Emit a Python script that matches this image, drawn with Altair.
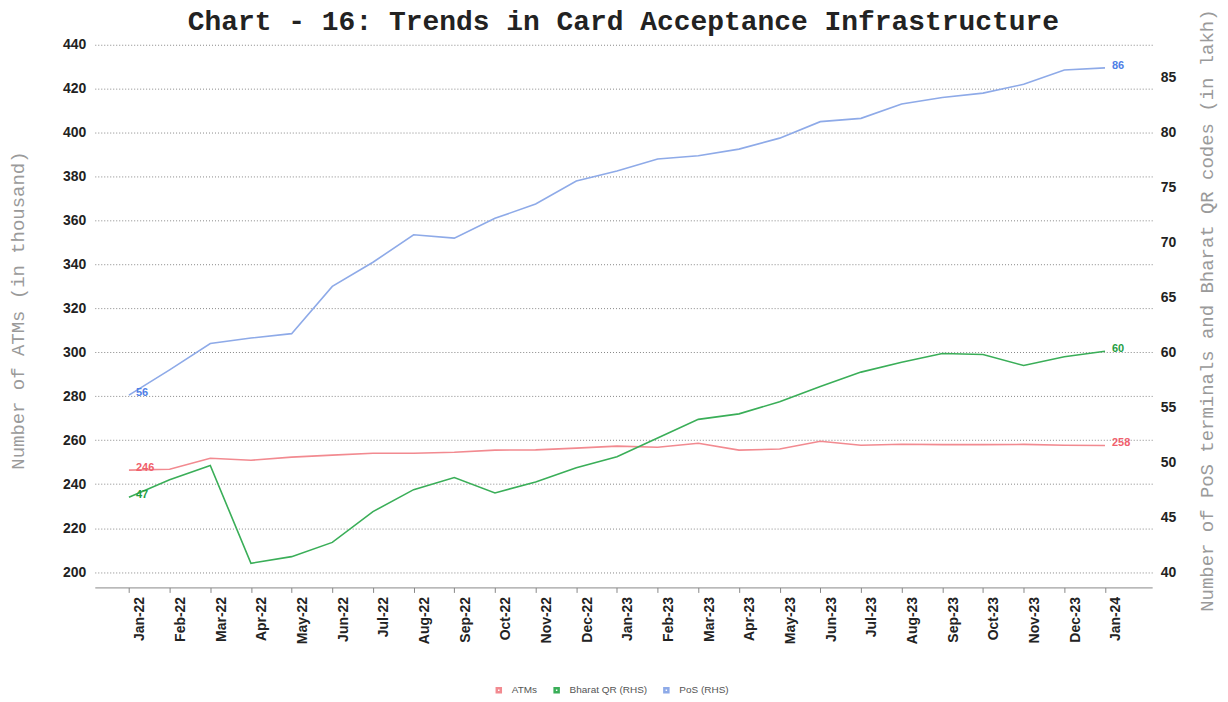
import altair as alt
import pandas as pd

months = ["Jan-22", "Feb-22", "Mar-22", "Apr-22", "May-22", "Jun-22", "Jul-22",
          "Aug-22", "Sep-22", "Oct-22", "Nov-22", "Dec-22", "Jan-23", "Feb-23",
          "Mar-23", "Apr-23", "May-23", "Jun-23", "Jul-23", "Aug-23", "Sep-23",
          "Oct-23", "Nov-23", "Dec-23", "Jan-24"]

atms = [246.4, 246.8, 251.8, 250.9, 252.3, 253.2, 254.1, 254.1, 254.5, 255.5,
        255.6, 256.4, 257.3, 256.8, 258.6, 255.5, 256.0, 259.5, 257.7, 258.2,
        258.0, 258.0, 258.1, 257.7, 257.6]

bharat_qr = [46.8, 48.4, 49.7, 40.8, 41.4, 42.7, 45.5, 47.5, 48.6, 47.2,
             48.2, 49.5, 50.5, 52.2, 53.9, 54.4, 55.5, 56.9, 58.2, 59.1,
             59.9, 59.8, 58.8, 59.6, 60.1]

pos = [56.1, 58.4, 60.8, 61.3, 61.7, 66.0, 68.2, 70.7, 70.4, 72.2,
       73.5, 75.6, 76.5, 77.6, 77.9, 78.5, 79.5, 81.0, 81.3, 82.6,
       83.2, 83.6, 84.4, 85.7, 85.9]

series_names = ["ATMs", "Bharat QR (RHS)", "PoS (RHS)"]
line_colors = ["#f28a90", "#3aae58", "#8eaae8"]
label_colors = ["#f0606c", "#1f9e42", "#4f80e6"]

left_ticks = list(range(200, 441, 20))
right_ticks = list(range(40, 86, 5))

title_text = "Chart - 16: Trends in Card Acceptance Infrastructure"
left_title = "Number of ATMs (in thousand)"
right_title = "Number of PoS terminals and Bharat QR codes (in lakh)"

rows = []
for name, vals in zip(series_names, [atms, bharat_qr, pos]):
    for i, m in enumerate(months):
        rows.append({"month": m, "series": name, "value": vals[i],
                     "idx": i, "label": str(int(round(vals[i])))})
df = pd.DataFrame(rows)
last = len(months) - 1

color_scale = alt.Scale(domain=series_names, range=line_colors)

x_enc = alt.X("month:O", sort=months, title=None,
              scale=alt.Scale(type="point", padding=1.03, align=0.42),
              axis=alt.Axis(labelAngle=270, labelFont="Liberation Sans",
                            labelFontWeight="bold", labelFontSize=14,
                            labelColor="#222", labelOffset=11, labelPadding=4,
                            tickSize=5, tickColor="#888", domainColor="#888",
                            grid=False))

left_axis = alt.Axis(values=left_ticks, title=left_title, labelFont="Liberation Sans",
                     labelFontWeight="bold", labelFontSize=14, labelColor="#222",
                     labelPadding=9, ticks=False, domain=False, grid=True,
                     gridColor="#888", gridDash=[1, 2], gridWidth=1,
                     titleFont="Liberation Mono", titleFontSize=19,
                     titleFontWeight="normal", titleColor="#9a9a9a",
                     titleX=-67, titleY=266, titleAngle=270)

right_axis = alt.Axis(values=right_ticks, title=right_title, orient="right",
                      labelFont="Liberation Sans", labelFontWeight="bold",
                      labelFontSize=14, labelColor="#222", labelPadding=8,
                      ticks=False, domain=False, grid=False,
                      titleFont="Liberation Mono", titleFontSize=19,
                      titleFontWeight="normal", titleColor="#9a9a9a",
                      titleX=64, titleY=266, titleAngle=270)

y_left = alt.Y("value:Q", scale=alt.Scale(domain=[193, 440], nice=False, zero=False),
               axis=left_axis)
y_right = alt.Y("value:Q", scale=alt.Scale(domain=[38.6, 88], nice=False, zero=False),
                axis=right_axis)

legend = alt.Legend(title=None, orient="none", legendX=400, legendY=642,
                    direction="horizontal", symbolType="square", symbolSize=16,
                    symbolStrokeWidth=2.5,
                    labelFont="Liberation Sans", labelFontSize=10, labelColor="#555",
                    columnPadding=12, labelOffset=8)

base = alt.Chart(df).encode(x=x_enc)


def line_layer(name, y):
    return base.transform_filter(alt.datum.series == name).mark_line(
        strokeWidth=1.6).encode(
        y=y, color=alt.Color("series:N", scale=color_scale, legend=legend))


def text_layer(name, y, color):
    return base.transform_filter(
        (alt.datum.series == name) & ((alt.datum.idx == 0) | (alt.datum.idx == last))
    ).mark_text(align="left", baseline="middle", dx=7, dy=-2, fontSize=11,
                fontWeight="bold", font="Liberation Sans", color=color).encode(
        y=y, text="label:N")


left = alt.layer(line_layer("ATMs", y_left),
                 text_layer("ATMs", y_left, label_colors[0]))
right = alt.layer(line_layer("Bharat QR (RHS)", y_right),
                  line_layer("PoS (RHS)", y_right),
                  text_layer("Bharat QR (RHS)", y_right, label_colors[1]),
                  text_layer("PoS (RHS)", y_right, label_colors[2]))

chart = alt.layer(left, right).resolve_scale(y="independent").properties(
    width=1060, height=544,
    title=alt.Title(title_text, font="Liberation Mono", fontSize=28,
                    fontWeight="bold", color="#222", anchor="middle", offset=8,
                    frame="group", dy=35),
    autosize=alt.AutoSizeParams(type="none"),
    padding={"left": 87, "top": 36, "right": 68, "bottom": 110},
).configure_view(stroke=None)

chart.save("out.html", embed_options={"renderer": "svg", "actions": False})
